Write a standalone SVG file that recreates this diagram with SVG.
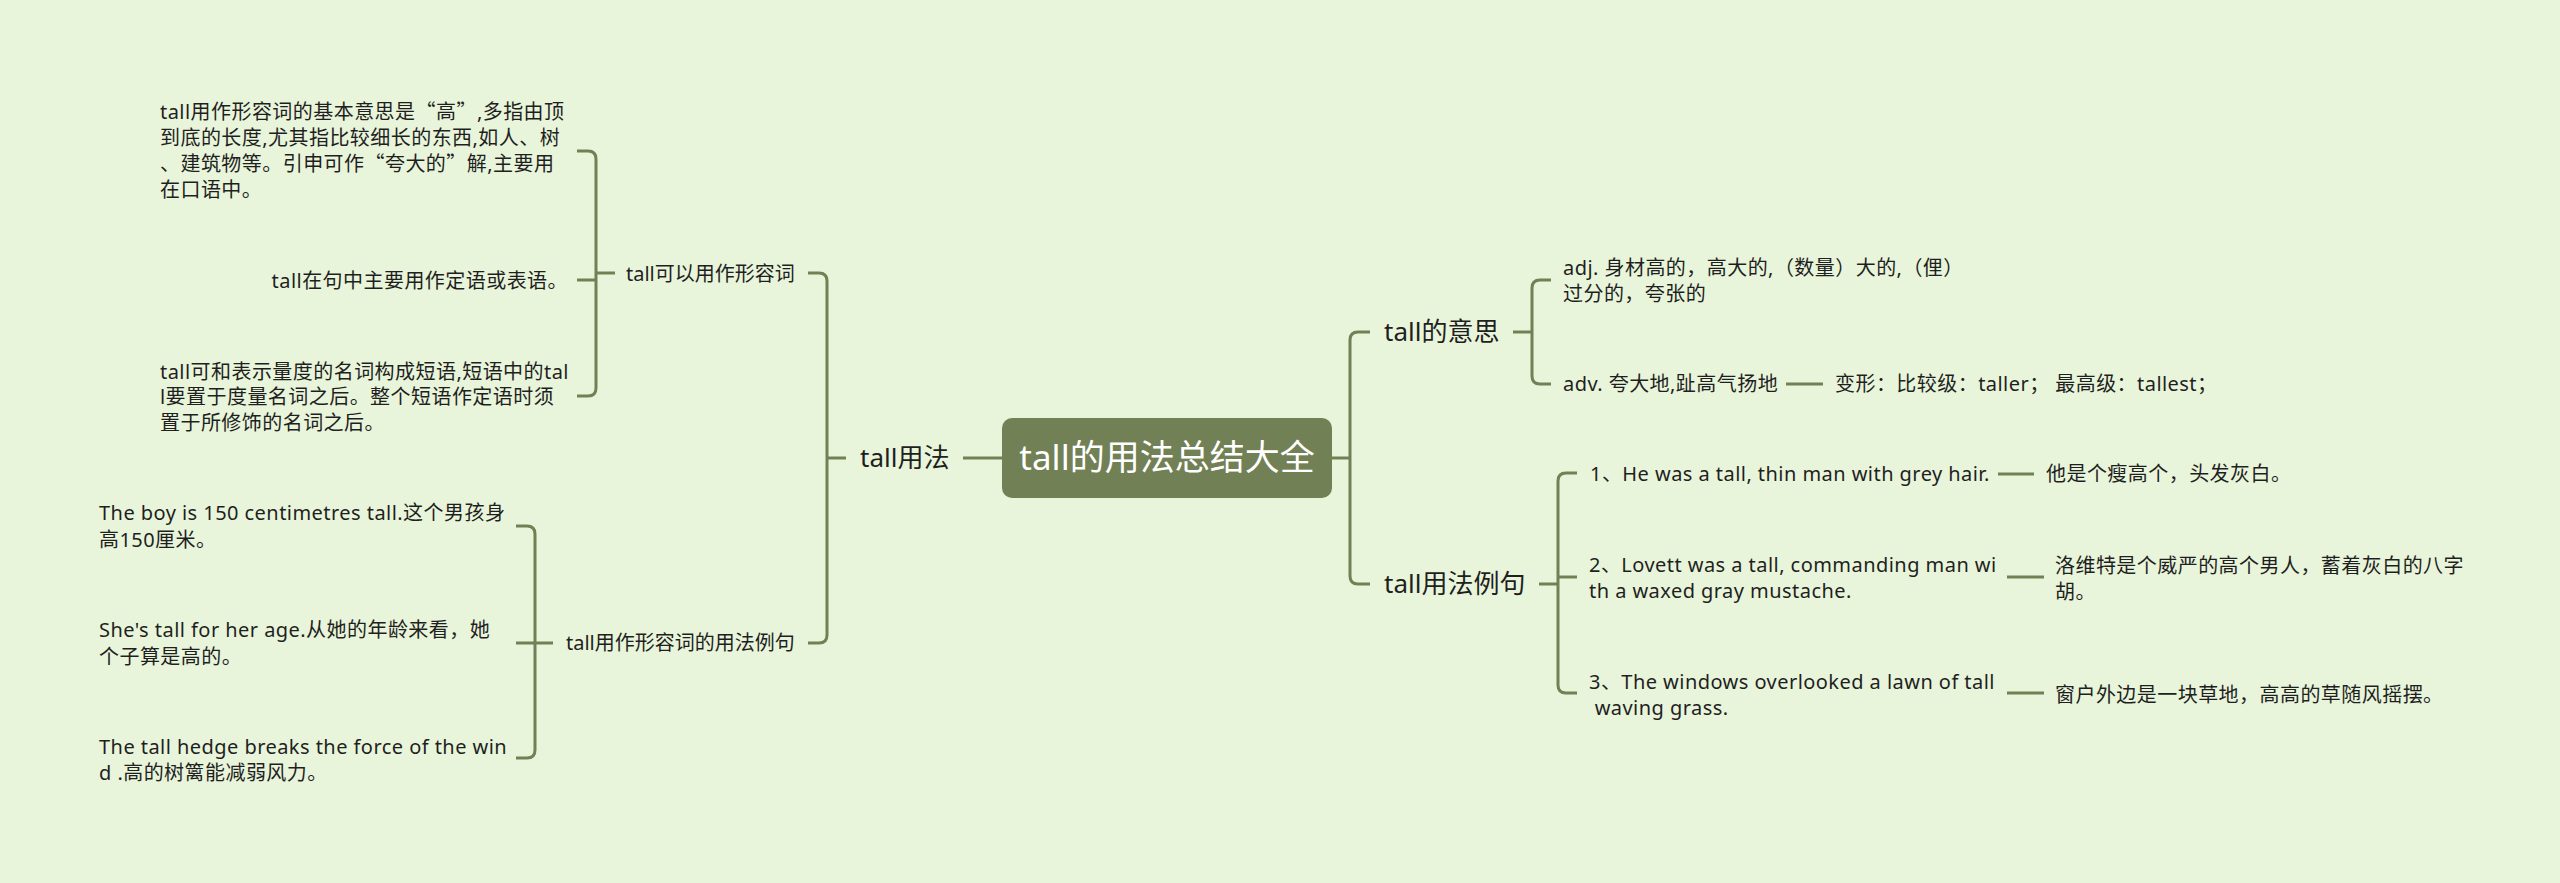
<svg xmlns="http://www.w3.org/2000/svg" width="2560" height="883" viewBox="0 0 2560 883">
<defs>
<style>
text{font-family:"Noto Sans","Noto Sans CJK SC",sans-serif;fill:#1f1f1f;white-space:pre}
.s{font-size:20px;letter-spacing:0.45px}
.m{font-size:20px}
.l{font-size:26px}
.root{font-size:35px;fill:#ffffff}
.q{font-family:"Noto Sans CJK SC",sans-serif}
.c{fill:none;stroke:#728055;stroke-width:3;stroke-linecap:butt;stroke-linejoin:round}
</style>
</defs>
<rect x="0" y="0" width="2560" height="883" fill="#e8f5da"/>
<g id="connectors">
<path class="c" d="M1002 458 H963"/>
<path class="c" d="M846 458 H827"/>
<path class="c" d="M808 273 H819 Q827 273 827 281 V635 Q827 643 819 643 H808"/>
<path class="c" d="M615 273 H596"/>
<path class="c" d="M577 151 H588 Q596 151 596 159 V388 Q596 396 588 396 H577"/>
<path class="c" d="M577 280 H596"/>
<path class="c" d="M553 643 H516"/>
<path class="c" d="M516 526 H527 Q535 526 535 534 V750 Q535 758 527 758 H516"/>
<path class="c" d="M1332 458 H1350"/>
<path class="c" d="M1370 332 H1358 Q1350 332 1350 340 V576 Q1350 584 1358 584 H1370"/>
<path class="c" d="M1513 332 H1532"/>
<path class="c" d="M1551 280 H1540 Q1532 280 1532 288 V376 Q1532 384 1540 384 H1551"/>
<path class="c" d="M1786 384 H1823"/>
<path class="c" d="M1539 584 H1558"/>
<path class="c" d="M1577 473 H1566 Q1558 473 1558 481 V685 Q1558 693 1566 693 H1577"/>
<path class="c" d="M1558 577 H1577"/>
<path class="c" d="M1998 474 H2034"/>
<path class="c" d="M2007 577 H2044"/>
<path class="c" d="M2007 693 H2044"/>
</g>
<g id="root">
<rect x="1002" y="418" width="330" height="80" rx="10" ry="10" fill="#728055"/>
<text class="root" x="1167" y="470" text-anchor="middle">tall的用法总结大全</text>
</g>
<g id="n-usage">
<text class="l" x="860" y="467">tall用法</text>
</g>
<g id="n-adj">
<text class="m" x="626" y="281">tall可以用作形容词</text>
</g>
<g id="n-adj-ex">
<text class="m" x="566" y="650">tall用作形容词的用法例句</text>
</g>
<g id="n-basic">
<text class="s" x="160" y="119">tall用作形容词的基本意思是<tspan class="q">“</tspan>高<tspan class="q">”</tspan>,多指由顶</text>
<text class="s" x="160" y="145">到底的长度,尤其指比较细长的东西,如人、树</text>
<text class="s" x="160" y="171">、建筑物等。引申可作<tspan class="q">“</tspan>夸大的<tspan class="q">”</tspan>解,主要用</text>
<text class="s" x="160" y="197">在口语中。</text>
</g>
<g id="n-attr">
<text class="s" x="568" y="288" text-anchor="end">tall在句中主要用作定语或表语。</text>
</g>
<g id="n-measure">
<text class="s" x="160" y="379">tall可和表示量度的名词构成短语,短语中的tal</text>
<text class="s" x="160" y="404">l要置于度量名词之后。整个短语作定语时须</text>
<text class="s" x="160" y="430">置于所修饰的名词之后。</text>
</g>
<g id="n-ex1">
<text class="s" x="99" y="520">The boy is 150 centimetres tall.这个男孩身</text>
<text class="s" x="99" y="547">高150厘米。</text>
</g>
<g id="n-ex2">
<text class="s" x="99" y="637">She's tall for her age.从她的年龄来看，她</text>
<text class="s" x="99" y="664">个子算是高的。</text>
</g>
<g id="n-ex3">
<text class="s" x="99" y="754">The tall hedge breaks the force of the win</text>
<text class="s" x="99" y="780">d .高的树篱能减弱风力。</text>
</g>
<g id="n-meaning">
<text class="l" x="1384" y="341">tall的意思</text>
</g>
<g id="n-adjm">
<text class="s" x="1563" y="275">adj. 身材高的，高大的,（数量）大的,（俚）</text>
<text class="s" x="1563" y="301">过分的，夸张的</text>
</g>
<g id="n-adv">
<text class="s" x="1563" y="391">adv. 夸大地,趾高气扬地</text>
</g>
<g id="n-forms">
<text class="s" x="1835" y="391">变形：比较级：taller； 最高级：tallest；</text>
</g>
<g id="n-examples">
<text class="l" x="1384" y="593">tall用法例句</text>
</g>
<g id="n-s1">
<text class="s" x="1590" y="481">1、He was a tall, thin man with grey hair.</text>
</g>
<g id="n-s1cn">
<text class="s" x="2046" y="481">他是个瘦高个，头发灰白。</text>
</g>
<g id="n-s2">
<text class="s" x="1589" y="572">2、Lovett was a tall, commanding man wi</text>
<text class="s" x="1589" y="598">th a waxed gray mustache.</text>
</g>
<g id="n-s2cn">
<text class="s" x="2055" y="573">洛维特是个威严的高个男人，蓄着灰白的八字</text>
<text class="s" x="2055" y="599">胡。</text>
</g>
<g id="n-s3">
<text class="s" x="1589" y="689">3、The windows overlooked a lawn of tall</text>
<text class="s" x="1589" y="715"> waving grass.</text>
</g>
<g id="n-s3cn">
<text class="s" x="2055" y="702">窗户外边是一块草地，高高的草随风摇摆。</text>
</g>
</svg>
